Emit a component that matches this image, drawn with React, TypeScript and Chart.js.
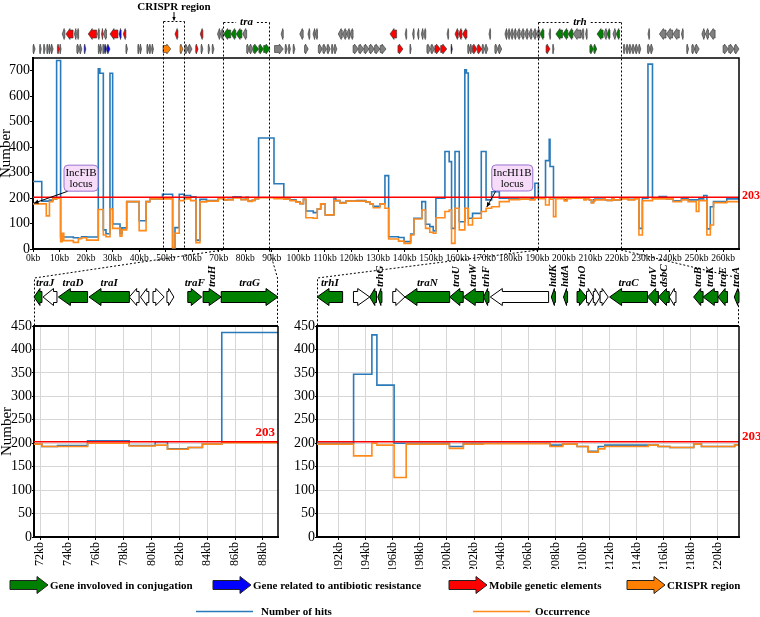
import React, { useEffect, useRef } from 'react';
import { Chart, registerables } from 'chart.js';

Chart.register(...registerables);

const SERIF = "'Liberation Serif', 'Times New Roman', serif";
const BLUE = '#2a79b9';
const ORANGE = '#ff8a1c';
const RED = '#ff0000';
const THRESHOLD = 203;

// ---------- Main (whole plasmid) step series, kb positions where each value starts ----------
const mainKb = [
  0, 3.3, 5.0, 6.2, 7.5, 8.9, 10.4, 11.0, 11.6, 15.2,
  17.1, 18.3, 20.2, 24.6, 25.2, 26.5, 27.5, 29.0, 30.0, 32.8,
  33.5, 35.3, 40.0, 42.6, 44.0, 48.8, 52.6, 53.5, 55.1, 56.9,
  59.4, 61.4, 62.9, 65.4, 69.8, 71.5, 72.1, 73.2, 75.4, 78.4,
  80.3, 81.1, 82.6, 83.6, 85.0, 90.8, 94.5, 96.8, 99.1, 100.6,
  101.9, 102.8, 105.6, 107.1, 108.4, 110.1, 113.4, 114.1, 115.6, 117.9,
  122.0, 125.4, 126.9, 128.2, 130.7, 132.6, 134.0, 137.7, 139.8, 142.3,
  143.5, 146.5, 147.9, 149.5, 150.8, 151.8, 155.2, 156.8, 157.7, 159.0,
  160.6, 162.7, 163.3, 164.0, 165.6, 168.9, 170.7, 172.8, 175.7, 179.4,
  183.4, 187.2, 189.1, 190.4, 193.1, 194.5, 194.8, 196.1, 197.0, 200.2,
  201.2, 202.7, 207.6, 208.5, 209.6, 210.4, 211.2, 211.7, 214.9, 215.6,
  216.4, 218.2, 218.8, 221.2, 221.7, 224.2, 226.7, 228.3, 229.6, 231.7,
  233.4, 235.9, 238.7, 241.2, 244.3, 246.8, 249.9, 250.9, 252.7, 253.9,
  255.2, 256.4, 261.4, 266,
];
const mainHits = [
  265, 188, 188, 192, 197, 740, 47, 47, 47, 44,
  42, 48, 47, 708, 690, 75, 60, 690, 98, 60,
  83, 186, 111, 186, 197, 215, 5, 84, 215, 210,
  205, 35, 195, 190, 200, 198, 193, 195, 205, 195,
  203, 188, 191, 198, 436, 256, 199, 193, 185, 178,
  195, 149, 143, 157, 177, 134, 202, 190, 182, 188,
  190, 185, 177, 168, 177, 288, 48, 45, 29, 59,
  121, 186, 97, 88, 71, 199, 383, 343, 81, 383,
  107, 704, 691, 121, 140, 383, 193, 225, 199, 198,
  200, 197, 258, 200, 347, 431, 324, 200, 200, 193,
  200, 200, 196, 198, 193, 183, 193, 196, 196, 193,
  191, 198, 193, 196, 199, 195, 199, 81, 199, 726,
  199, 206, 197, 189, 197, 193, 193, 197, 210, 79,
  166, 186, 197, 197,
];
const mainOcc = [
  177, 177, 130, 186, 197, 199, 29, 62, 33, 26,
  40, 44, 35, 155, 155, 55, 48, 157, 81, 50,
  75, 186, 72, 186, 197, 197, 5, 62, 190, 197,
  190, 25, 185, 188, 198, 198, 193, 193, 200, 194,
  196, 187, 191, 198, 201, 198, 196, 190, 184, 178,
  195, 123, 121, 157, 177, 134, 190, 190, 180, 188,
  188, 185, 177, 162, 177, 160, 39, 31, 22, 55,
  118, 153, 81, 66, 62, 123, 147, 153, 22, 160,
  75, 160, 160, 94, 121, 147, 160, 166, 186, 194,
  196, 193, 199, 198, 173, 200, 196, 127, 198, 189,
  198, 199, 193, 198, 193, 181, 188, 193, 196, 193,
  191, 198, 193, 196, 197, 193, 197, 55, 190, 190,
  197, 197, 197, 186, 193, 186, 147, 190, 190, 55,
  94, 182, 186, 186,
];

// ---------- tra region detail ----------
const traKb = [71.55, 72.12, 73.24, 75.40, 78.39, 80.26, 81.14, 82.63, 83.65, 85.04, 89.08];
const traHits = [198, 193, 195, 205, 195, 203, 188, 191, 198, 436, 436];
const traOcc = [198, 193, 193, 200, 194, 196, 187, 191, 198, 201, 201];

// ---------- trh region detail ----------
const trhKb = [190.41, 193.11, 194.46, 194.83, 196.10, 196.99, 200.18, 201.21, 202.69, 207.60, 208.54,
  209.61, 210.42, 211.16, 211.65, 214.85, 215.58, 216.44, 218.21, 218.78, 221.23, 221.55];
const trhHits = [200, 347, 431, 324, 200, 200, 193, 200, 200, 196, 198,
  193, 183, 193, 196, 196, 193, 191, 198, 193, 196, 196];
const trhOcc = [198, 173, 200, 196, 127, 198, 189, 198, 199, 193, 198,
  193, 181, 188, 193, 196, 193, 191, 198, 193, 196, 196];

// ---------- gene map (kb start, kb end, category) ----------
// categories: c = conjugation, b = antibiotic resistance, r = mobile element, o = CRISPR, g = other
const minusStrandGenes = [
  [11, 12, 'g'], [12.4, 15.1, 'r'], [15.6, 16.3, 'g'], [16.5, 17.2, 'g'], [20.8, 24, 'r'], [24.3, 25, 'g'],
  [25.8, 26.3, 'r'], [26.5, 27.7, 'g'], [29, 32, 'r'], [32.4, 33.2, 'b'], [34, 35, 'r'], [53.5, 54.6, 'r'],
  [63, 64, 'r'], [69.5, 70.5, 'g'], [70.6, 71.6, 'g'], [71.8, 74.5, 'c'], [74.6, 76.4, 'c'], [76.5, 78.7, 'c'],
  [79, 80.5, 'g'], [93.5, 94.3, 'g'], [100.5, 101.8, 'g'], [103.6, 104.3, 'g'], [105.5, 106.3, 'g'],
  [106.4, 107.2, 'g'], [115, 116.5, 'g'], [116.6, 118, 'g'], [118.1, 119.4, 'g'], [119.5, 120.6, 'g'],
  [134.5, 137, 'r'], [140.2, 140.8, 'g'], [143, 143.6, 'g'], [144.8, 145.4, 'g'], [146.3, 147, 'g'],
  [147.2, 148, 'g'], [156, 156.6, 'g'], [159, 160.2, 'r'], [160.3, 161.6, 'r'], [161.8, 163.5, 'r'],
  [171.8, 172.4, 'g'], [177.8, 178.6, 'g'], [178.8, 179.6, 'g'], [179.8, 180.8, 'g'], [181, 182, 'g'],
  [182.2, 183.5, 'g'], [183.7, 185, 'g'], [185.2, 186.5, 'g'], [186.7, 188, 'g'], [188.2, 189.5, 'g'],
  [189.6, 190.9, 'g'], [191, 192.5, 'c'], [194.4, 195, 'g'], [197, 199.5, 'c'], [199.6, 201.5, 'c'],
  [201.6, 203.4, 'c'], [203.5, 206.5, 'g'], [206.6, 207.5, 'g'], [208.2, 208.8, 'g'], [212.5, 214.8, 'c'],
  [215, 216.2, 'g'], [216.3, 217.4, 'c'], [218.5, 219.5, 'g'], [219.7, 221, 'c'], [231.7, 232.3, 'g'],
  [236, 238.5, 'g'], [238.6, 241, 'g'], [241.1, 243.5, 'g'], [244.3, 245, 'g'], [252, 253, 'g'],
  [253.3, 254.5, 'g'], [254.8, 257, 'g'],
];
const plusStrandGenes = [
  [0, 0.8, 'g'], [2.5, 3.1, 'g'], [4, 4.6, 'g'], [5.2, 5.8, 'g'], [6, 6.6, 'g'], [6.8, 7.6, 'g'],
  [9.2, 10, 'r'], [10.1, 10.6, 'g'], [16.5, 17.5, 'g'], [17.6, 18.4, 'g'], [19.3, 19.9, 'b'],
  [24.6, 25.2, 'g'], [25.3, 25.9, 'g'], [26.3, 26.8, 'g'], [26.9, 27.8, 'b'], [27.9, 29, 'b'],
  [35, 35.6, 'g'], [39.5, 40.1, 'g'], [40.3, 40.9, 'g'], [42.9, 43.6, 'g'], [43.8, 44.6, 'g'],
  [44.8, 45.4, 'g'], [49, 51.9, 'o'], [55.4, 56.5, 'o'], [57.2, 58.5, 'g'], [58.6, 59.9, 'g'],
  [61.3, 62.2, 'r'], [63.3, 64, 'g'], [66, 66.6, 'g'], [67.5, 68.2, 'g'], [80.5, 81.5, 'g'],
  [81.6, 82.9, 'g'], [83, 85, 'c'], [85.1, 86.8, 'c'], [86.9, 89.3, 'c'], [91, 94.3, 'g'],
  [95, 95.8, 'g'], [96.3, 97, 'g'], [98, 98.7, 'g'], [102.3, 103.7, 'g'], [107.5, 109, 'g'],
  [109.2, 110.6, 'g'], [110.8, 112, 'g'], [112.5, 113.2, 'g'], [113.5, 114.5, 'g'], [120.6, 122.6, 'g'],
  [122.7, 124.6, 'g'], [124.7, 126.6, 'g'], [126.7, 128.6, 'g'], [128.7, 130.7, 'g'], [130.8, 133, 'g'],
  [137.5, 139.4, 'r'], [142, 142.5, 'g'], [148.4, 149.8, 'g'], [149.9, 151.3, 'g'], [151.4, 153.5, 'r'],
  [153.6, 155.9, 'r'], [157.5, 158, 'b'], [163.8, 164.6, 'g'], [164.7, 165.5, 'g'], [165.6, 167.3, 'r'],
  [167.4, 169.1, 'r'], [169.2, 170.2, 'g'], [170.4, 171.4, 'g'], [174, 175.2, 'g'], [175.4, 176.6, 'g'],
  [193.3, 194.8, 'r'], [195.8, 196.3, 'g'], [209.8, 211.2, 'c'], [211.3, 212.4, 'c'], [222.5, 223.2, 'g'],
  [223.6, 224.4, 'g'], [224.6, 225.6, 'g'], [225.8, 226.8, 'g'], [227, 228, 'g'], [228.2, 229, 'g'],
  [231.5, 232.6, 'g'], [232.7, 233.6, 'g'], [246.3, 247, 'g'], [248.2, 249.4, 'g'], [249.5, 251, 'g'],
  [260, 262, 'g'], [262.1, 264.2, 'g'], [264.3, 266, 'g'],
];

// detail gene maps: start, end, strand, category (c conjugation / w other), name
const traGenes = [
  [71.55, 72.12, -1, 'c', 'traJ'], [72.2, 73.2, -1, 'w', ''], [73.3, 75.4, -1, 'c', 'traD'],
  [75.5, 78.4, -1, 'c', 'traI'], [78.4, 79.1, -1, 'w', ''], [79.2, 79.8, -1, 'w', ''],
  [80.1, 80.9, 1, 'w', ''], [81.1, 81.6, 1, 'w', ''], [82.6, 83.6, 1, 'c', 'traF'],
  [83.7, 85.0, 1, 'c', 'traH'], [85.0, 89.08, 1, 'c', 'traG'],
];
const trhGenes = [
  [190.41, 192.3, -1, 'c', 'trhI'], [193.1, 194.3, 1, 'w', ''], [194.3, 194.8, -1, 'c', ''],
  [194.9, 195.2, -1, 'c', 'trhG'], [196.0, 196.9, 1, 'w', ''], [196.9, 200.2, -1, 'c', 'traN'],
  [200.2, 201.2, -1, 'c', 'traU'], [201.2, 202.7, -1, 'c', 'traW'], [202.7, 203.1, -1, 'c', 'trhF'],
  [203.2, 207.5, -1, 'w', ''], [207.7, 208.0, -1, 'c', 'htdK'], [208.6, 208.9, -1, 'c', 'htdA'],
  [209.6, 210.3, 1, 'c', 'trhO'], [210.3, 210.8, 1, 'w', ''], [210.8, 211.3, 1, 'w', ''],
  [211.3, 211.9, 1, 'w', ''], [212.0, 214.8, -1, 'c', 'traC'], [214.8, 215.6, -1, 'c', 'traV'],
  [215.6, 216.4, -1, 'c', 'dsbC'], [216.4, 216.9, -1, 'w', ''], [218.2, 218.9, -1, 'c', 'traB'],
  [218.9, 220.0, -1, 'c', 'traK'], [220.0, 220.7, -1, 'c', 'traE'], [221.2, 221.55, -1, 'c', 'traA'],
];
const verticalLabels = new Set(['traH', 'trhG', 'traU', 'traW', 'trhF', 'htdK', 'htdA', 'trhO', 'traV', 'dsbC', 'traB', 'traK', 'traE', 'traA']);

const regions = [
  { label: 'CRISPR region', from: 49.0, to: 56.9, kind: 'above' },
  { label: 'tra', from: 71.55, to: 89.08, kind: 'inline' },
  { label: 'trh', from: 190.41, to: 221.55, kind: 'inline' },
];
const loci = [
  { text: ['IncFIB', 'locus'], kb: 0, value: 180 },
  { text: ['IncHI1B', 'locus'], kb: 170.6, value: 165 },
];
const legendArrows = [
  ['c', 'Gene involoved in conjugation'],
  ['b', 'Gene related to antibiotic resistance'],
  ['r', 'Mobile genetic elements'],
  ['o', 'CRISPR region'],
];
const legendLines = [['Number of hits', BLUE], ['Occurrence', ORANGE]];

const GENE_FILL: any = { c: '#008000', b: '#0000ff', r: '#ff0000', o: '#ff8000', g: '#808080', w: '#ffffff' };

function geneArrow(ctx: any, xa: number, xb: number, yc: number, h: number, bh: number, dir: number, fill: string, stroke: string, maxHead: number, lw = 0.8) {
  const w = Math.max(xb - xa, 1);
  const hl = Math.min(maxHead, w * 0.75);
  ctx.beginPath();
  if (dir > 0) {
    ctx.moveTo(xa, yc - bh / 2);
    ctx.lineTo(xb - hl, yc - bh / 2);
    ctx.lineTo(xb - hl, yc - h / 2);
    ctx.lineTo(xb, yc);
    ctx.lineTo(xb - hl, yc + h / 2);
    ctx.lineTo(xb - hl, yc + bh / 2);
    ctx.lineTo(xa, yc + bh / 2);
  } else {
    ctx.moveTo(xb, yc - bh / 2);
    ctx.lineTo(xa + hl, yc - bh / 2);
    ctx.lineTo(xa + hl, yc - h / 2);
    ctx.lineTo(xa, yc);
    ctx.lineTo(xa + hl, yc + h / 2);
    ctx.lineTo(xa + hl, yc + bh / 2);
    ctx.lineTo(xb, yc + bh / 2);
  }
  ctx.closePath();
  ctx.fillStyle = fill;
  ctx.fill();
  ctx.strokeStyle = stroke;
  ctx.lineWidth = lw;
  ctx.stroke();
}

function arrowLine(ctx: any, x1: number, y1: number, x2: number, y2: number, head = 5) {
  ctx.beginPath();
  ctx.moveTo(x1, y1);
  ctx.lineTo(x2, y2);
  ctx.stroke();
  const ang = Math.atan2(y2 - y1, x2 - x1);
  ctx.beginPath();
  ctx.moveTo(x2, y2);
  ctx.lineTo(x2 - head * Math.cos(ang - 0.45), y2 - head * Math.sin(ang - 0.45));
  ctx.lineTo(x2 - head * Math.cos(ang + 0.45), y2 - head * Math.sin(ang + 0.45));
  ctx.closePath();
  ctx.fill();
}

const stepPoints = (xs: number[], ys: number[]) => xs.map((x, i) => ({ x, y: ys[i] }));

const mainDecor = {
  id: 'mainDecor',
  afterDraw(chart: any) {
    const { ctx, chartArea: a, scales } = chart;
    const x = scales.x, y = scales.y;
    ctx.save();
    // frame
    ctx.strokeStyle = '#000';
    ctx.lineWidth = 1.5;
    ctx.beginPath();
    ctx.moveTo(a.left, a.top);
    ctx.lineTo(a.right, a.top);
    ctx.lineTo(a.right, a.bottom);
    ctx.stroke();

    // gene rows
    minusStrandGenes.forEach(([s, e, c]: any) => {
      geneArrow(ctx, x.getPixelForValue(s), x.getPixelForValue(e), 34, 11, 8, -1, GENE_FILL[c], '#333', 4, 0.6);
    });
    plusStrandGenes.forEach(([s, e, c]: any) => {
      geneArrow(ctx, x.getPixelForValue(s), x.getPixelForValue(e), 49, 10, 7, 1, GENE_FILL[c], '#333', 4, 0.6);
    });

    // region boxes
    ctx.strokeStyle = '#000';
    ctx.fillStyle = '#000';
    ctx.lineWidth = 1;
    regions.forEach((r) => {
      const x1 = Math.round(x.getPixelForValue(r.from)) + 0.5;
      const x2 = Math.round(x.getPixelForValue(r.to)) + 0.5;
      const cx = (x1 + x2) / 2;
      const top = r.kind === 'above' ? 21.5 : 22.5;
      ctx.setLineDash([2, 2]);
      ctx.beginPath();
      ctx.moveTo(x1, top); ctx.lineTo(x1, a.bottom);
      ctx.moveTo(x2, top); ctx.lineTo(x2, a.bottom);
      if (r.kind === 'above') {
        ctx.moveTo(x1, top); ctx.lineTo(x2, top);
        ctx.stroke();
        ctx.setLineDash([]);
        ctx.font = `bold 11px ${SERIF}`;
        ctx.textAlign = 'center';
        ctx.textBaseline = 'alphabetic';
        ctx.fillText(r.label, cx, 10);
        arrowLine(ctx, cx, 12, cx, top - 1, 4);
      } else {
        ctx.font = `italic bold 11px ${SERIF}`;
        const tw = ctx.measureText(r.label).width;
        ctx.moveTo(x1, top); ctx.lineTo(cx - tw / 2 - 4, top);
        ctx.moveTo(cx + tw / 2 + 4, top); ctx.lineTo(x2, top);
        ctx.stroke();
        ctx.setLineDash([]);
        ctx.textAlign = 'center';
        ctx.textBaseline = 'middle';
        ctx.fillText(r.label, cx, top);
      }
    });
    ctx.setLineDash([]);

    // loci call-outs
    const boxOffsets = [{ dx: 31, dy: -38, w: 34 }, { dx: 6, dy: -42, w: 41 }];
    loci.forEach((l, i) => {
      const tx = x.getPixelForValue(l.kb), ty = y.getPixelForValue(l.value);
      const o = boxOffsets[i];
      const bx = tx + o.dx, by = ty + o.dy, bw = o.w, bh = 26;
      ctx.strokeStyle = '#000';
      ctx.fillStyle = '#000';
      ctx.lineWidth = 1;
      arrowLine(ctx, bx + 4, by + bh, tx + 1, ty, 5);
      ctx.beginPath();
      ctx.roundRect(bx, by, bw, bh, 4);
      ctx.fillStyle = '#f7dcf9';
      ctx.fill();
      ctx.strokeStyle = '#9a72d2';
      ctx.stroke();
      ctx.fillStyle = '#000';
      ctx.font = `11px ${SERIF}`;
      ctx.textAlign = 'center';
      ctx.textBaseline = 'middle';
      ctx.fillText(l.text[0], bx + bw / 2, by + 8);
      ctx.fillText(l.text[1], bx + bw / 2, by + 19);
    });

    // threshold label
    ctx.fillStyle = RED;
    ctx.font = `bold 12px ${SERIF}`;
    ctx.textAlign = 'left';
    ctx.textBaseline = 'middle';
    ctx.fillText(String(THRESHOLD), a.right + 3, y.getPixelForValue(THRESHOLD) - 1);

    // legend
    const arrowX = [10, 213, 449, 627];
    ctx.font = `bold 11px ${SERIF}`;
    ctx.textBaseline = 'alphabetic';
    legendArrows.forEach(([c, label], i) => {
      geneArrow(ctx, arrowX[i], arrowX[i] + 38, 585, 17, 9, 1, GENE_FILL[c], '#222', 11, 1);
      ctx.fillStyle = '#000';
      ctx.textAlign = 'left';
      ctx.fillText(label, arrowX[i] + 40, 589);
    });
    const lineX = [196, 473];
    const textX = [261, 535];
    legendLines.forEach(([label, color], i) => {
      ctx.strokeStyle = color;
      ctx.lineWidth = 1.5;
      ctx.beginPath();
      ctx.moveTo(lineX[i], 611.5);
      ctx.lineTo(lineX[i] + 57, 611.5);
      ctx.stroke();
      ctx.fillStyle = '#000';
      ctx.fillText(label, textX[i], 615);
    });
    ctx.restore();
  },
};

function detailDecor(genes: any[], range: number[], mainHolder: any, labelInside: boolean) {
  return {
    id: 'detailDecor',
    afterDraw(chart: any) {
      const { ctx, chartArea: a, scales } = chart;
      const x = scales.x, y = scales.y;
      ctx.save();
      ctx.strokeStyle = '#000';
      ctx.lineWidth = 2;
      ctx.beginPath();
      ctx.moveTo(a.left, a.top);
      ctx.lineTo(a.right, a.top);
      ctx.stroke();
      ctx.lineWidth = 1.5;
      ctx.beginPath();
      ctx.moveTo(a.right, a.top);
      ctx.lineTo(a.right, a.bottom);
      ctx.stroke();

      // connectors from main chart
      const m = mainHolder.current;
      const knee = a.top - 48;
      if (m) {
        const mx1 = m.scales.x.getPixelForValue(range[0]);
        const mx2 = m.scales.x.getPixelForValue(range[1]);
        const my = m.chartArea.bottom + 1;
        ctx.setLineDash([2, 2]);
        ctx.lineWidth = 1;
        ctx.beginPath();
        ctx.moveTo(mx1, my); ctx.lineTo(a.left + 0.5, knee); ctx.lineTo(a.left + 0.5, a.top);
        ctx.moveTo(mx2, my); ctx.lineTo(a.right - 0.5, knee); ctx.lineTo(a.right - 0.5, a.top);
        ctx.stroke();
        ctx.setLineDash([]);
      }

      // genes
      const yc = a.top - 29;
      genes.forEach(([s, e, dir, c, name]: any) => {
        const xa = x.getPixelForValue(s), xb = x.getPixelForValue(e);
        geneArrow(ctx, xa, xb, yc, 17, 11, dir, GENE_FILL[c], '#000', 12, 1);
        if (name) {
          ctx.fillStyle = '#000';
          ctx.font = `italic bold 11px ${SERIF}`;
          const cx = (xa + xb) / 2;
          if (verticalLabels.has(name)) {
            ctx.save();
            ctx.translate(cx, yc - 10);
            ctx.rotate(-Math.PI / 2);
            ctx.textAlign = 'left';
            ctx.textBaseline = 'middle';
            ctx.fillText(name, 0, 0);
            ctx.restore();
          } else {
            const tw = ctx.measureText(name).width;
            const lx = Math.max(cx - tw / 2, a.left + 2);
            ctx.textAlign = 'left';
            ctx.textBaseline = 'alphabetic';
            ctx.fillText(name, lx, yc - 11);
          }
        }
      });

      // threshold label
      ctx.fillStyle = RED;
      ctx.font = `bold 13px ${SERIF}`;
      ctx.textBaseline = 'middle';
      const ty = y.getPixelForValue(THRESHOLD);
      if (labelInside) {
        ctx.textAlign = 'right';
        ctx.fillText(String(THRESHOLD), a.right - 3, ty - 9);
      } else {
        ctx.textAlign = 'left';
        ctx.fillText(String(THRESHOLD), a.right + 3, ty - 5);
      }
      ctx.restore();
    },
  };
}

function lineSets(kb: number[], hits: number[], occ: number[], min: number, max: number, width: number) {
  return [
    { data: [{ x: min, y: THRESHOLD }, { x: max, y: THRESHOLD }], borderColor: RED, borderWidth: 1.6, pointRadius: 0 },
    { data: stepPoints(kb, occ), borderColor: ORANGE, borderWidth: width, pointRadius: 0, stepped: true },
    { data: stepPoints(kb, hits), borderColor: BLUE, borderWidth: width, pointRadius: 0, stepped: true },
  ];
}

function mainConfig(): any {
  return {
    type: 'line',
    data: { datasets: lineSets(mainKb, mainHits, mainOcc, 0, 266, 1.6) },
    options: {
      responsive: false,
      animation: false,
      events: [],
      layout: { padding: { left: 0, right: 21, top: 58, bottom: 354 } },
      plugins: { legend: { display: false }, tooltip: { enabled: false } },
      scales: {
        x: {
          type: 'linear', min: 0, max: 266,
          ticks: { stepSize: 10, includeBounds: false, autoSkip: false, maxRotation: 0, minRotation: 0,
            callback: (v: any) => v + 'kb', font: { size: 9.5, family: SERIF }, color: '#000', padding: 1 },
          grid: { display: true, drawOnChartArea: false, drawTicks: true, tickLength: 3, color: '#000' },
          border: { display: true, color: '#000', width: 2 },
          afterFit: (s: any) => { s.height = 14; },
        },
        y: {
          min: 0, max: 750,
          ticks: { stepSize: 100, includeBounds: false, font: { size: 14, family: SERIF }, color: '#000', padding: 0 },
          grid: { display: true, drawOnChartArea: false, drawTicks: true, tickLength: 3, color: '#000' },
          border: { display: true, color: '#000', width: 2 },
          title: { display: true, text: 'Number', color: '#000', padding: 0, font: { size: 15, family: SERIF, lineHeight: 0.75 } },
          afterFit: (s: any) => { s.width = 33; },
        },
      },
    },
    plugins: [mainDecor],
  };
}

function detailConfig(kb: number[], hits: number[], occ: number[], min: number, max: number, padding: any, yWidth: number, showTitle: boolean, decor: any): any {
  return {
    type: 'line',
    data: { datasets: lineSets(kb, hits, occ, min, max, 1.6) },
    options: {
      responsive: false,
      animation: false,
      events: [],
      layout: { padding },
      plugins: { legend: { display: false }, tooltip: { enabled: false } },
      scales: {
        x: {
          type: 'linear', min, max,
          ticks: { stepSize: 2, includeBounds: false, autoSkip: false, minRotation: 90, maxRotation: 90,
            callback: (v: any) => v + 'kb', font: { size: 12, family: SERIF }, color: '#000', padding: 2 },
          grid: { display: true, color: '#d6d6d6', tickColor: '#000', tickLength: 3, lineWidth: 1 },
          border: { display: true, color: '#000', width: 2 },
          afterFit: (s: any) => { s.height = 32; },
        },
        y: {
          min: 0, max: 450,
          ticks: { stepSize: 50, font: { size: 14, family: SERIF }, color: '#000', padding: 0 },
          grid: { display: true, color: '#d6d6d6', tickColor: '#000', tickLength: 2, lineWidth: 1 },
          border: { display: true, color: '#000', width: 2 },
          title: { display: showTitle, text: 'Number', color: '#000', padding: 0, font: { size: 15, family: SERIF, lineHeight: 0.9 } },
          afterFit: (s: any) => { s.width = yWidth; },
        },
      },
    },
    plugins: [decor],
  };
}

export default function App() {
  const mainRef = useRef<HTMLCanvasElement>(null);
  const traRef = useRef<HTMLCanvasElement>(null);
  const trhRef = useRef<HTMLCanvasElement>(null);

  useEffect(() => {
    Chart.defaults.font.family = SERIF;
    Chart.defaults.color = '#000';
    const holder: any = { current: null };
    const main = new Chart(mainRef.current as HTMLCanvasElement, mainConfig());
    holder.current = main;
    const tra = new Chart(traRef.current as HTMLCanvasElement, detailConfig(
      traKb, traHits, traOcc, 71.55, 89.08,
      { left: 0, right: 482, top: 326, bottom: 48 }, 34, true,
      detailDecor(traGenes, [71.55, 89.08], holder, true)));
    const trh = new Chart(trhRef.current as HTMLCanvasElement, detailConfig(
      trhKb, trhHits, trhOcc, 190.41, 221.55,
      { left: 289, right: 21, top: 326, bottom: 48 }, 28, false,
      detailDecor(trhGenes, [190.41, 221.55], holder, false)));
    return () => {
      trh.destroy();
      tra.destroy();
      main.destroy();
    };
  }, []);

  const cs: any = { position: 'absolute', left: 0, top: 0, display: 'block' };
  return (
    <div style={{ position: 'absolute', left: 0, top: 0, width: 760, height: 617, background: '#fff', overflow: 'hidden' }}>
      <canvas ref={mainRef} width={760} height={617} style={cs} />
      <canvas ref={traRef} width={760} height={617} style={cs} />
      <canvas ref={trhRef} width={760} height={617} style={cs} />
    </div>
  );
}
